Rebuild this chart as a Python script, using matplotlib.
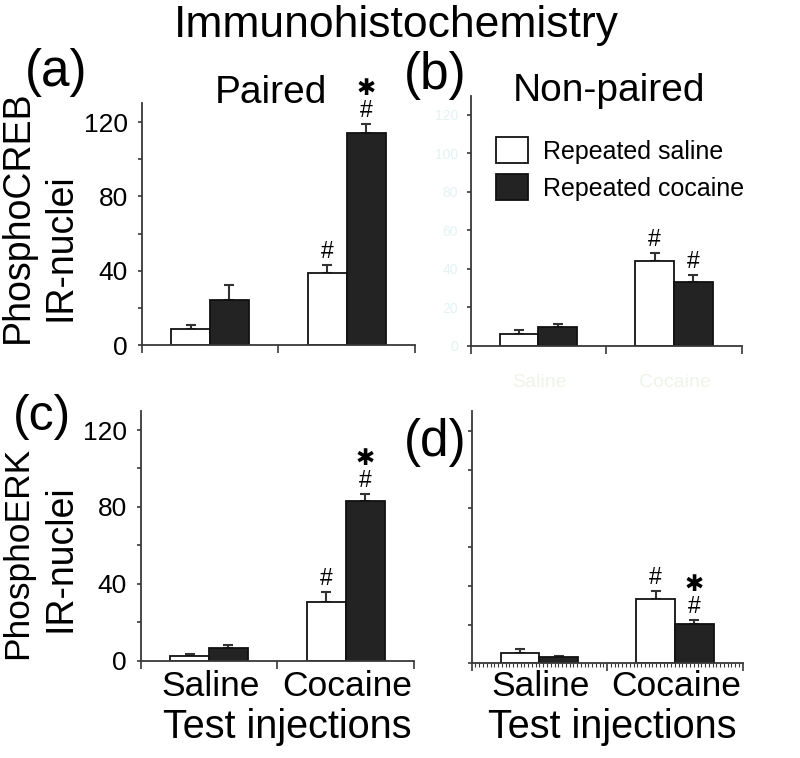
import matplotlib
matplotlib.use('Agg')
import matplotlib.pyplot as plt
import matplotlib.transforms as mtransforms
from matplotlib.ticker import MultipleLocator
import numpy as np

plt.rcParams['font.family'] = ['Liberation Sans', 'DejaVu Sans']

categories = ['Saline', 'Cocaine']
series_names = ['Repeated saline', 'Repeated cocaine']

# PhosphoCREB, paired / non-paired
creb_paired_sal = [9.0, 38.7]
creb_paired_sal_err = [2.0, 4.3]
creb_paired_coc = [24.5, 113.9]
creb_paired_coc_err = [7.9, 5.0]
creb_nonpaired_sal = [6.2, 44.2]
creb_nonpaired_sal_err = [2.0, 4.1]
creb_nonpaired_coc = [9.5, 33.1]
creb_nonpaired_coc_err = [1.6, 3.5]

# PhosphoERK, paired / non-paired
erk_paired_sal = [2.6, 30.7]
erk_paired_sal_err = [0.9, 4.9]
erk_paired_coc = [6.4, 83.1]
erk_paired_coc_err = [1.8, 3.6]
erk_nonpaired_sal = [5.5, 33.2]
erk_nonpaired_sal_err = [1.9, 4.3]
erk_nonpaired_coc = [3.1, 20.4]
erk_nonpaired_coc_err = [0.8, 1.8]

# significance marks per category ('#' vs saline test, '*' vs repeated saline)
marks_a = (['', '#'], ['', '*#'])
marks_b = (['', '#'], ['', '#'])
marks_c = (['', '#'], ['', '*#'])
marks_d = (['', '#'], ['', '*#'])

W, H = 800, 758
fig = plt.figure(figsize=(8, 7.58), dpi=100, facecolor='white')


def fx(x):
    return x / W


def fy(y):
    return 1 - y / H


def make_ax(l, t, r, b):
    return fig.add_axes([fx(l), fy(b), (r - l) / W, (b - t) / H])


AX_COL = '#383838'
BAR_W = 0.285


def draw_panel(ax, sal, sal_err, coc, coc_err, marks):
    x = np.arange(len(categories))
    b1 = ax.bar(x - BAR_W / 2, sal, BAR_W, color='white', edgecolor='#111111',
                linewidth=1.3, label=series_names[0], zorder=2)
    b2 = ax.bar(x + BAR_W / 2, coc, BAR_W, color='#232323', edgecolor='#111111',
                linewidth=1.3, label=series_names[1], zorder=2)
    for xs, vals, errs in [(x - BAR_W / 2, sal, sal_err), (x + BAR_W / 2, coc, coc_err)]:
        ax.errorbar(xs, vals, yerr=[np.zeros(len(vals)), errs], fmt='none',
                    ecolor='#333333', elinewidth=1.5, capsize=3.5, capthick=1.5, zorder=1)
    for xs, vals, errs, mk in [(x - BAR_W / 2, sal, sal_err, marks[0]),
                               (x + BAR_W / 2, coc, coc_err, marks[1])]:
        for xi, v, e, m in zip(xs, vals, errs, mk):
            if m == '#':
                ax.annotate('#', xy=(xi, v + e), xytext=(0, 5), textcoords='offset points',
                            ha='center', va='baseline', fontsize=16.5)
            elif m == '*#':
                ax.annotate('\u2731\n#', xy=(xi, v + e), xytext=(0, 5),
                            textcoords='offset points', ha='center', va='baseline',
                            fontsize=16.5, linespacing=0.97)

    ax.set_xlim(-0.5, 1.5)
    ax.set_ylim(0, 130)
    ax.set_xticks([-0.5, 0.5, 1.5])
    ax.set_xticklabels([])
    for s in ['top', 'right']:
        ax.spines[s].set_visible(False)
    for s in ['left', 'bottom']:
        ax.spines[s].set_color(AX_COL)
        ax.spines[s].set_linewidth(1.3)
    ax.tick_params(axis='x', which='major', direction='out', length=6, width=1.2, color=AX_COL)
    ax.tick_params(axis='y', which='both', direction='out', length=3, width=1.2,
                   color=AX_COL, labelsize=19, pad=7)
    ax.set_facecolor('white')
    return b1, b2


ax_a = make_ax(141.7, 103.4, 415, 345.3)
ax_b = make_ax(470.7, 95.5, 741.7, 345.7)
ax_c = make_ax(140.7, 410.8, 414, 660.7)
ax_d = make_ax(471.7, 411.4, 742.7, 663.3)

draw_panel(ax_a, creb_paired_sal, creb_paired_sal_err, creb_paired_coc, creb_paired_coc_err, marks_a)
hb1, hb2 = draw_panel(ax_b, creb_nonpaired_sal, creb_nonpaired_sal_err,
                      creb_nonpaired_coc, creb_nonpaired_coc_err, marks_b)
draw_panel(ax_c, erk_paired_sal, erk_paired_sal_err, erk_paired_coc, erk_paired_coc_err, marks_c)
draw_panel(ax_d, erk_nonpaired_sal, erk_nonpaired_sal_err,
           erk_nonpaired_coc, erk_nonpaired_coc_err, marks_d)

# y ticks
for ax in (ax_a, ax_c):
    ax.set_yticks([0, 40, 80, 120])
    ax.set_yticks([20, 60, 100], minor=True)
ax_b.set_yticks(np.arange(0, 121, 20))
ax_b.tick_params(axis='y', labelsize=10, labelcolor='#e3f3f1', pad=6)
ax_d.set_yticks(np.arange(0, 121, 20))
ax_d.set_yticklabels([])
ax_d.xaxis.set_minor_locator(MultipleLocator(2 / 72))
ax_d.tick_params(axis='x', which='minor', direction='out', length=3, width=0.8, color=AX_COL)

# category labels under the bottom panels (and faint ones under (b))
for ax, fs, col, ybase in [(ax_c, 25.5, 'black', 696.5), (ax_d, 25.5, 'black', 696.5),
                           (ax_b, 14, '#eef4e8', 387)]:
    tr = mtransforms.blended_transform_factory(ax.transData, fig.transFigure)
    for i, c in enumerate(categories):
        ax.text(i + 0.01, fy(ybase), c, transform=tr, ha='center', va='baseline',
                fontsize=fs, color=col)

fig.text(fx(287), fy(738), 'Test injections', ha='center', va='baseline', fontsize=28.5)
fig.text(fx(612), fy(738), 'Test injections', ha='center', va='baseline', fontsize=28.5)

# titles and panel letters
fig.text(fx(396), fy(36.5), 'Immunohistochemistry', ha='center', va='baseline', fontsize=32)
fig.text(fx(271), fy(103), 'Paired', ha='center', va='baseline', fontsize=28)
fig.text(fx(609), fy(101), 'Non-paired', ha='center', va='baseline', fontsize=28)
fig.text(fx(56), fy(86), '(a)', ha='center', va='baseline', fontsize=37)
fig.text(fx(435), fy(89), '(b)', ha='center', va='baseline', fontsize=37)
fig.text(fx(42), fy(430), '(c)', ha='center', va='baseline', fontsize=36)
fig.text(fx(435), fy(456), '(d)', ha='center', va='baseline', fontsize=37)

# y labels
fig.text(fx(18), fy(217), 'PhosphoCREB', rotation=90, ha='center', va='center', fontsize=27)
fig.text(fx(61), fy(247), 'IR-nuclei', rotation=90, ha='center', va='center', fontsize=27)
fig.text(fx(18), fy(553), 'PhosphoERK', rotation=90, ha='center', va='center', fontsize=25.5)
fig.text(fx(61), fy(558), 'IR-nuclei', rotation=90, ha='center', va='center', fontsize=27)

# legend
ax_b.legend(handles=[hb1, hb2], loc='upper left',
            bbox_to_anchor=(fx(496), fy(137)), bbox_transform=fig.transFigure,
            frameon=False, fontsize=18, handlelength=1.28, handleheight=1.24,
            handletextpad=0.6, labelspacing=0.42, borderpad=0, borderaxespad=0)

fig.savefig('out.png', dpi=100, facecolor='white')
